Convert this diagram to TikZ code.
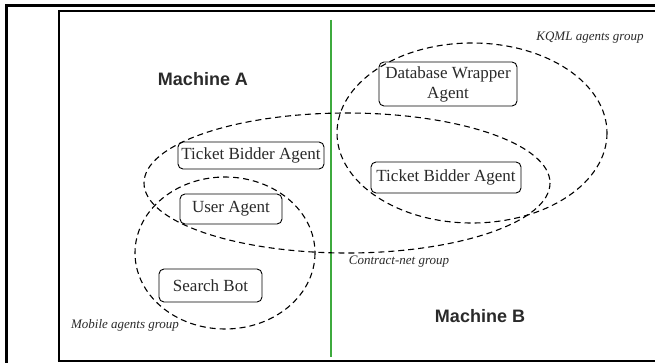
\documentclass[tikz,border=0pt]{standalone}
\usepackage{fontspec}
\setmainfont{Liberation Serif}
\newfontfamily\headfont{Liberation Sans}
\definecolor{inkgray}{HTML}{2A2A2A}
\definecolor{divider}{HTML}{3DAA3D}
\begin{document}
\begin{tikzpicture}[x=1pt,y=-1pt,
  agent/.style={draw, rounded corners=5pt, line width=0.9pt, inner sep=0pt,
    align=center, text=inkgray, font=\fontsize{17}{20}\selectfont},
  machine/.style={text=inkgray, font=\headfont\bfseries\fontsize{18}{20}\selectfont},
  grouplabel/.style={text=inkgray, font=\itshape\fontsize{13}{15}\selectfont},
  grp/.style={draw, line width=1.1pt, dash pattern=on 6pt off 4pt}
]
\useasboundingbox (0,0) rectangle (655,363);
\fill[white] (0,0) rectangle (655,363);

% double frame
\draw[line width=3pt] (6.5,363) -- (6.5,6) -- (655,6);
\draw[line width=2pt] (58.5,361) -- (58.5,11) -- (655,11);
\draw[line width=2pt] (57.5,361) -- (655,361);

% machine divider
\draw[divider, line width=1.3pt] (331,20) -- (331,357);

% machine labels
\node[machine] (ma) at (203,79) {Machine A};
\node[machine] (mb) at (480,316) {Machine B};

% agents
\node[agent, minimum width=138, minimum height=44] (dbw) at (448,84) {Database Wrapper\\Agent};
\node[agent, minimum width=150, minimum height=31] (tbr) at (446,177.5) {Ticket Bidder Agent};
\node[agent, minimum width=146, minimum height=27] (tbl) at (251,155.5) {Ticket Bidder Agent};
\node[agent, minimum width=102, minimum height=30] (ua) at (231,209) {User Agent};
\node[agent, minimum width=103, minimum height=33] (sb) at (210.5,285.5) {Search Bot};

% agent groups
\draw[grp] (472,133) ellipse [x radius=135, y radius=90];
\draw[grp] (347,183) ellipse [x radius=203, y radius=70];
\draw[grp] (225,253) ellipse [x radius=90, y radius=76];

% group labels
\node[grouplabel] (kqml) at (590,38) {KQML agents group};
\node[grouplabel] (cnet) at (399,262) {Contract-net group};
\node[grouplabel] (mob) at (125,325) {Mobile agents group};
\end{tikzpicture}
\end{document}
